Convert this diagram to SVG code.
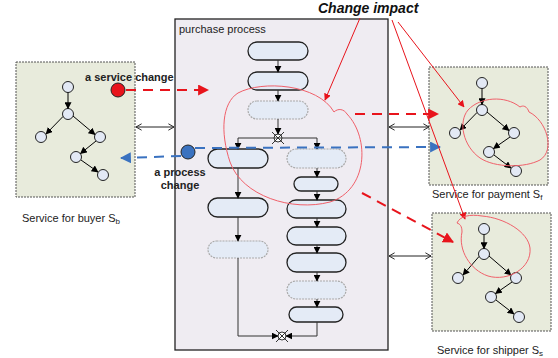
<svg xmlns="http://www.w3.org/2000/svg" width="558" height="358" viewBox="0 0 558 358">
<defs>
<marker id="ah" viewBox="0 0 10 10" refX="9" refY="5" markerWidth="7" markerHeight="7" markerUnits="userSpaceOnUse" orient="auto"><path d="M0,0 L10,5 L0,10 Z" fill="#000"/></marker>
<marker id="ahr" viewBox="0 0 10 10" refX="9" refY="5" markerWidth="11" markerHeight="11" markerUnits="userSpaceOnUse" orient="auto"><path d="M0,0 L10,5 L0,10 Z" fill="#e8141c"/></marker>
<marker id="ahb" viewBox="0 0 10 10" refX="9" refY="5" markerWidth="11" markerHeight="11" markerUnits="userSpaceOnUse" orient="auto"><path d="M0,0 L10,5 L0,10 Z" fill="#3a72c0"/></marker>
<marker id="ahthin" viewBox="0 0 10 10" refX="9" refY="5" markerWidth="7" markerHeight="7" markerUnits="userSpaceOnUse" orient="auto"><path d="M0,0 L10,5 L0,10 Z" fill="#e8141c"/></marker>
<marker id="open" viewBox="0 0 10 10" refX="9" refY="5" markerWidth="8" markerHeight="8" markerUnits="userSpaceOnUse" orient="auto-start-reverse"><path d="M2,1 L9,5 L2,9" fill="none" stroke="#222" stroke-width="1.2"/></marker>
</defs>
<style>
.svc{fill:#e8ebdc;stroke:#555;stroke-width:1;stroke-dasharray:2,1}
.nd{fill:#e3e9f5;stroke:#222;stroke-width:1}
.e{stroke:#000;stroke-width:1;fill:none;marker-end:url(#ah)}
.act{fill:#e4ebf6;stroke:#222;stroke-width:1.3}
.actd{fill:#e4ebf6;stroke:#aaa;stroke-width:1.2;stroke-dasharray:2,1}
.fl{stroke:#333;stroke-width:1;fill:none}
.fla{stroke:#333;stroke-width:1;fill:none;marker-end:url(#ah)}
.lbl{font-family:"Liberation Sans",Arial,sans-serif;font-size:11px;fill:#222}
.bold{font-family:"Liberation Sans",Arial,sans-serif;font-size:11px;font-weight:bold;fill:#222}
.cloud{fill:none;stroke:#f0606a;stroke-width:1}
.rl{stroke:#e8141c;stroke-width:1;fill:none;marker-end:url(#ahthin)}
.rd{stroke:#e8141c;stroke-width:2;stroke-dasharray:10,7;fill:none;marker-end:url(#ahr)}
.bd{stroke:#3a72c0;stroke-width:2;stroke-dasharray:10,7;fill:none;marker-end:url(#ahb)}
.dbl{stroke:#222;stroke-width:1;fill:none;marker-start:url(#open);marker-end:url(#open)}
</style>

<g id="process">
<rect x="175" y="19" width="213" height="331" fill="#efecf2" stroke="#222" stroke-width="1.3"/>
<text x="179" y="33" class="lbl">purchase process</text>
<g id="a1"><rect x="248" y="42" width="60" height="18" rx="9" class="act"/></g>
<g id="a2"><rect x="248" y="72" width="60" height="18" rx="9" class="act"/></g>
<g id="a3"><rect x="248" y="101" width="60" height="18" rx="9" class="actd"/></g>
<g id="g1"><circle cx="278" cy="138" r="4" fill="#fff" stroke="#333"/><path d="M272,132 L284,144 M284,132 L272,144" stroke="#333" stroke-width="1"/></g>
<g id="l1"><rect x="208" y="149" width="60" height="19" rx="9.5" class="act"/></g>
<g id="r1"><rect x="287" y="149" width="59" height="19" rx="9.5" class="actd"/></g>
<g id="r2"><rect x="294" y="177" width="44" height="14" rx="7" class="act"/></g>
<g id="r3"><rect x="287" y="200" width="59" height="18" rx="9" class="act"/></g>
<g id="r4"><rect x="287" y="227" width="59" height="18" rx="9" class="act"/></g>
<g id="r5"><rect x="287" y="253" width="59" height="19" rx="9.5" class="act"/></g>
<g id="r6"><rect x="287" y="281" width="59" height="18" rx="9" class="actd"/></g>
<g id="r7"><rect x="289" y="307" width="54" height="15" rx="7.5" class="act"/></g>
<g id="l2"><rect x="208" y="198" width="60" height="19" rx="9.5" class="act"/></g>
<g id="l3"><rect x="208" y="241" width="60" height="17" rx="8.5" class="actd"/></g>
<g id="g2"><circle cx="282" cy="336" r="4" fill="#fff" stroke="#333"/><path d="M276,330 L288,342 M288,330 L276,342" stroke="#333" stroke-width="1"/></g>
</g>

<g id="buyer">
<rect x="16" y="62" width="119" height="135" class="svc"/>
<g id="bn1"><circle cx="68" cy="87" r="5.5" class="nd"/></g>
<g id="bn2"><circle cx="68" cy="114" r="5.5" class="nd"/></g>
<g id="bn3"><circle cx="41" cy="137" r="5.5" class="nd"/></g>
<g id="bn4"><circle cx="100" cy="137" r="5.5" class="nd"/></g>
<g id="bn5"><circle cx="76" cy="157" r="5.5" class="nd"/></g>
<g id="bn6"><circle cx="103" cy="175" r="5.5" class="nd"/></g>
</g>
<text x="22" y="222" class="lbl">Service for buyer S<tspan font-size="8" dy="2">b</tspan></text>

<g id="payment">
<rect x="429" y="67" width="119" height="118" class="svc"/>
<g id="pn1"><circle cx="482" cy="83" r="5.5" class="nd"/></g>
<g id="pn2"><circle cx="482" cy="110" r="5.5" class="nd"/></g>
<g id="pn3"><circle cx="455" cy="133" r="5.5" class="nd"/></g>
<g id="pn4"><circle cx="514" cy="133" r="5.5" class="nd"/></g>
<g id="pn5"><circle cx="489" cy="152" r="5.5" class="nd"/></g>
<g id="pn6"><circle cx="516" cy="171" r="5.5" class="nd"/></g>
</g>
<text x="432" y="198" class="lbl">Service for payment  S<tspan font-size="8" dy="2">f</tspan></text>

<g id="shipper">
<rect x="432" y="213" width="119" height="118" class="svc"/>
<g id="sn1"><circle cx="484" cy="229" r="5.5" class="nd"/></g>
<g id="sn2"><circle cx="484" cy="254" r="5.5" class="nd"/></g>
<g id="sn3"><circle cx="458" cy="278" r="5.5" class="nd"/></g>
<g id="sn4"><circle cx="516" cy="278" r="5.5" class="nd"/></g>
<g id="sn5"><circle cx="491" cy="297" r="5.5" class="nd"/></g>
<g id="sn6"><circle cx="519" cy="317" r="5.5" class="nd"/></g>
</g>
<text x="437" y="354" class="lbl">Service for shipper S<tspan font-size="8" dy="2">s</tspan></text>

<g id="connectors">
<!-- buyer edges -->
<path d="M68,92.5 L68,108.5" class="e"/>
<path d="M63,116.5 L46,134" class="e"/>
<path d="M73,116 L95,134.5" class="e"/>
<path d="M96,141 L80.5,153.5" class="e"/>
<path d="M81,160 L98,172" class="e"/>
<!-- payment edges -->
<path d="M482,88.5 L482,104.5" class="e"/>
<path d="M477,112.5 L460,130" class="e"/>
<path d="M487,112 L509,130.5" class="e"/>
<path d="M510,137 L493.5,148.5" class="e"/>
<path d="M494,155 L511,168" class="e"/>
<!-- shipper edges -->
<path d="M484,234.5 L484,248.5" class="e"/>
<path d="M479,256.5 L463,275" class="e"/>
<path d="M489,256 L511,275" class="e"/>
<path d="M512,282 L495.5,293.5" class="e"/>
<path d="M496,300 L514,314" class="e"/>
<!-- process flow -->
<path d="M278,60 L278,72" class="fla"/>
<path d="M278,90 L278,101" class="fla"/>
<path d="M278,119 L278,134" class="fla"/>
<path d="M238,138 L317,138" class="fl"/>
<path d="M238,138 L238,149" class="fla"/>
<path d="M317,138 L317,149" class="fla"/>
<path d="M238,168 L238,198" class="fla"/>
<path d="M238,217 L238,241" class="fla"/>
<path d="M238,258 L238,336 L278,336" class="fla"/>
<path d="M317,168 L317,177" class="fla"/>
<path d="M317,191 L317,200" class="fla"/>
<path d="M317,218 L317,227" class="fla"/>
<path d="M317,245 L317,253" class="fla"/>
<path d="M317,272 L317,281" class="fla"/>
<path d="M317,299 L317,307" class="fla"/>
<path d="M317,322 L317,336 L286,336" class="fla"/>
<!-- interaction double arrows -->
<path d="M136,127 L174,127" class="dbl"/>
<path d="M389,127 L429,127" class="dbl"/>
<path d="M389,256 L431,256" class="dbl"/>
<!-- change arrows -->
<path d="M126,90 L208,90" class="rd"/>
<path d="M355,114 L438,114" class="rd"/>
<path d="M362,193 L453,242" class="rd"/>
<path d="M181,156 L121,158" class="bd"/>
<path d="M195,148 L440,147" class="bd"/>
<!-- impact lines -->
<path d="M360,18 L325,100" class="rl"/>
<path d="M398,22 L464,107" class="rl"/>
<path d="M392,20 L465,219" class="rl"/>
</g>

<g id="clouds">
<path class="cloud" d="M238,93 C262,80 318,84 334,112 C338,108 344,109 347,114 C370,138 368,190 330,202 C292,212 242,196 230,162 C220,132 222,103 238,93 Z"/>
<path class="cloud" d="M468,110 C480,97 505,95 520,107 C523,105 527,106 529,112 C546,120 556,150 540,160 C525,168 495,168 480,158 C463,146 458,122 468,110 Z"/>
<path class="cloud" d="M457,223 C460,216 470,214 482,216 C505,218 528,232 530,248 C532,268 508,282 488,276 C470,270 458,250 462,232 C462,226 460,224 457,223 Z"/>
</g>

<g id="markers-change">
<circle cx="118" cy="90" r="7" fill="#e8141c" stroke="#222" stroke-width="1"/>
<circle cx="188" cy="152" r="7" fill="#3a72c0" stroke="#222" stroke-width="1"/>
</g>

<text x="85" y="81" class="bold">a service change</text>
<text x="180" y="176" class="bold" text-anchor="middle">a process</text>
<text x="180" y="189" class="bold" text-anchor="middle">change</text>
<text x="318" y="13" font-family="'Liberation Sans',Arial,sans-serif" font-size="14" font-weight="bold" font-style="italic" fill="#111">Change impact</text>
</svg>
